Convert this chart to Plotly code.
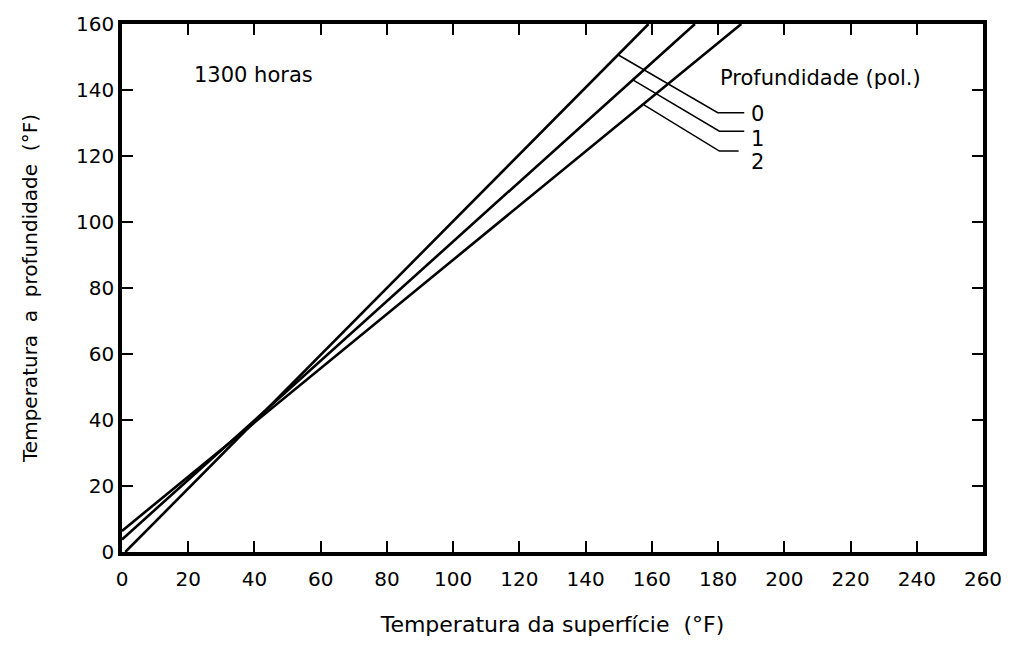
import plotly.graph_objects as go

# Data
depths = ["0", "1", "2"]
line_x_start = [1, 0, 0]
line_y_start = [0, 3.8, 6.4]
line_x_end = [159, 173, 187]
line_y_end = [160, 160, 160]

leader_x = [[149.9, 179.9, 187.9], [154.4, 180.4, 187.9], [157.6, 180.4, 186.2]]
leader_y = [[150.6, 133.1, 133.1], [143.0, 127.5, 127.5], [135.5, 121.5, 121.5]]
label_x = [191.8, 191.8, 191.8]
label_y = [132.6, 125.2, 118.3]

x_ticks = list(range(0, 261, 20))
y_ticks = list(range(0, 161, 20))

FONT = "DejaVu Sans"
fig = go.Figure()

for i, d in enumerate(depths):
    fig.add_trace(go.Scatter(
        x=[line_x_start[i], line_x_end[i]], y=[line_y_start[i], line_y_end[i]],
        mode="lines", line=dict(color="black", width=2.6), showlegend=False,
        hoverinfo="skip"))
    fig.add_trace(go.Scatter(
        x=leader_x[i], y=leader_y[i], mode="lines",
        line=dict(color="black", width=1.5), showlegend=False, hoverinfo="skip"))
    fig.add_annotation(x=label_x[i], y=label_y[i], text=d, showarrow=False,
                       xanchor="center", yanchor="middle",
                       font=dict(family=FONT, size=21, color="black"))

fig.add_annotation(x=21, y=144.5, text="1300 horas", showarrow=False,
                   xanchor="left", yanchor="middle",
                   font=dict(family=FONT, size=21, color="black"))
fig.add_annotation(x=180, y=143.5, text="Profundidade (pol.)", showarrow=False,
                   xanchor="left", yanchor="middle",
                   font=dict(family=FONT, size=21, color="black"))

axis_common = dict(
    showline=True, linecolor="black", linewidth=3.5, mirror="ticks",
    ticks="inside", ticklen=11, tickwidth=2, tickcolor="black",
    showgrid=False, zeroline=False,
    tickfont=dict(family=FONT, size=20, color="black"),
)

fig.update_xaxes(range=[0, 260], tickvals=x_ticks, ticktext=[str(v) for v in x_ticks],
                 ticklabelstandoff=6,
                 title=dict(text="Temperatura da superfície  (°F)", standoff=28,
                            font=dict(family=FONT, size=22, color="black")),
                 **axis_common)
fig.update_yaxes(range=[0, 160], tickvals=y_ticks, ticktext=[str(v) for v in y_ticks],
                 title=dict(text="Temperatura  a  profundidade  (°F)", standoff=34,
                            font=dict(family=FONT, size=20, color="black")),
                 **axis_common)

fig.update_layout(
    width=1014, height=646,
    margin=dict(l=122, r=26, t=16, b=94),
    plot_bgcolor="white", paper_bgcolor="white",
)

fig.write_html("out.html")
